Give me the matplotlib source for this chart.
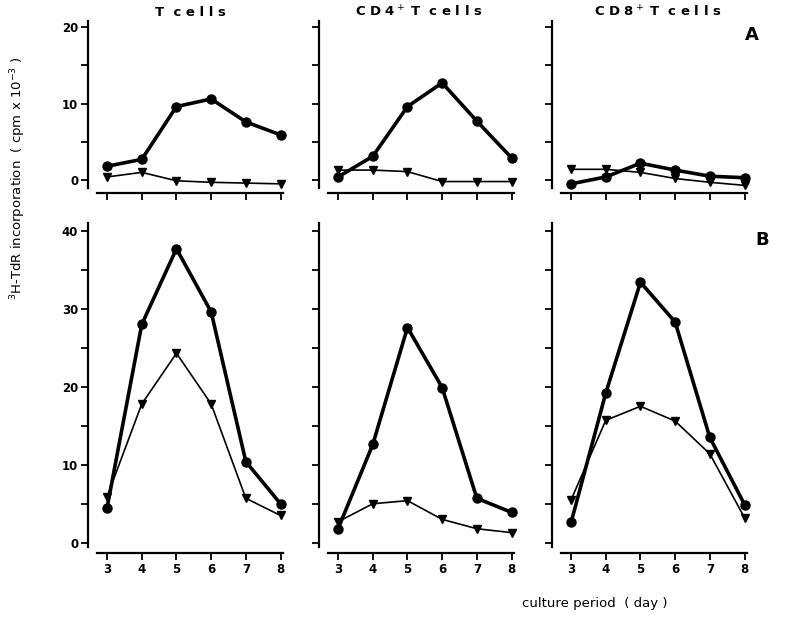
import numpy as np
import matplotlib.pyplot as plt
from matplotlib.ticker import MultipleLocator

days = [3, 4, 5, 6, 7, 8]
titles = ['T  c e l l s', 'C D 4$^+$ T  c e l l s', 'C D 8$^+$ T  c e l l s']
title_x = [190, 419, 658]

# panel A (upper row)
a_circle = [[1.8, 2.7, 9.6, 10.6, 7.6, 5.9],
            [0.4, 3.1, 9.6, 12.7, 7.7, 2.9],
            [-0.5, 0.4, 2.2, 1.3, 0.5, 0.3]]
a_tri = [[0.4, 1.0, -0.1, -0.3, -0.4, -0.5],
         [1.3, 1.3, 1.1, -0.2, -0.2, -0.2],
         [1.4, 1.4, 1.0, 0.2, -0.3, -0.7]]

# panel B (lower row)
b_circle = [[4.5, 28.0, 37.7, 29.6, 10.4, 5.0],
            [1.8, 12.6, 27.6, 19.9, 5.7, 3.9],
            [2.6, 19.2, 33.4, 28.3, 13.5, 4.9]]
b_tri = [[5.9, 17.8, 24.3, 17.8, 5.7, 3.5],
         [2.7, 5.0, 5.4, 3.0, 1.8, 1.3],
         [5.5, 15.7, 17.5, 15.6, 11.4, 3.2]]

W, H = 789, 627
fig = plt.figure(figsize=(W / 100, H / 100), dpi=100)

lefts = [88, 319, 552]
width = 196
fs = 8.5


def style(ax, ymin, ymax, labels, ticklabels_x):
    ax.set_xlim(2.45, 8.1)
    ax.set_ylim(ymin, ymax)
    for s in ['top', 'right']:
        ax.spines[s].set_visible(False)
    ax.spines['left'].set_linewidth(1.6)
    ax.spines['bottom'].set_linewidth(1.6)
    ax.spines['left'].set_bounds(ymin + 0.3 * (ymax - ymin) / 40, ymax)
    ax.spines['bottom'].set_position(('outward', 3))
    ax.spines['bottom'].set_bounds(2.72, 8.08)
    ax.set_xticks(days)
    ax.yaxis.set_major_locator(MultipleLocator(10))
    ax.yaxis.set_minor_locator(MultipleLocator(5))
    ax.tick_params(axis='both', which='both', direction='out', width=1.3,
                   labelsize=fs, pad=2, length=5)
    if not labels:
        ax.set_yticklabels([])
    else:
        for t in ax.get_yticklabels():
            t.set_fontweight('bold')
    if not ticklabels_x:
        ax.set_xticklabels([])
    else:
        for t in ax.get_xticklabels():
            t.set_fontweight('bold')


def draw(ax, circ, tri):
    ax.plot(days, circ, '-o', color='black', lw=2.6, ms=6.5, clip_on=False)
    ax.plot(days, tri, '-v', color='black', lw=1.2, ms=5.5, clip_on=False)


for i in range(3):
    x0 = lefts[i] / W
    # upper row
    ax = fig.add_axes([x0, 1 - 189.2 / H, width / W, (189.2 - 20.9) / H])
    draw(ax, a_circle[i], a_tri[i])
    style(ax, -1.2, 20.8, i == 0, False)
    fig.text(title_x[i] / W, 1 - 12 / H, titles[i], fontsize=9.5,
             fontweight='bold', ha='center', va='center')

    # lower row
    ax = fig.add_axes([x0, 1 - 549 / H, width / W, (549 - 223) / H])
    draw(ax, b_circle[i], b_tri[i])
    style(ax, -0.8, 41, i == 0, True)

fig.text(745 / W, 1 - 35 / H, 'A', fontsize=13, fontweight='bold',
         ha='left', va='center')
fig.text(755 / W, 1 - 240 / H, 'B', fontsize=13, fontweight='bold',
         ha='left', va='center')
fig.text(18 / W, 1 - 178 / H,
         '$^3$H-TdR incorporation  ( cpm x 10$^{-3}$ )',
         rotation=90, fontsize=9.5, ha='center', va='center')
fig.text(595 / W, 1 - 604 / H, 'culture period  ( day )', fontsize=9.5,
         ha='center', va='center')

fig.savefig('out.png', dpi=100)
